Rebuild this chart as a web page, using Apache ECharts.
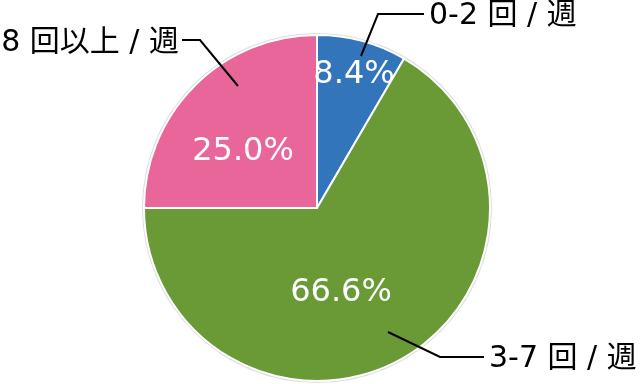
<!DOCTYPE html>
<html><head><meta charset="utf-8">
<script src="https://cdn.jsdelivr.net/npm/echarts@6/dist/echarts.min.js"></script>
<style>html,body{margin:0;padding:0;background:#fff}#c{width:642px;height:384px}</style>
</head><body><div id="c"></div>
<script>
const categories = ['0-2 回 / 週', '3-7 回 / 週', '8 回以上 / 週'];
const values = [8.4, 66.6, 25.0];
const colors = ['#3375bb', '#699a36', '#e9669a'];

const FONT = '"DejaVu Sans", "Noto Sans CJK JP", sans-serif';
const data = categories.map((n, i) => ({ name: n, value: values[i], itemStyle: { color: colors[i] } }));

// label placements (pixel layout of text, not data)
const insidePos = [[354, 75], [341, 293], [243, 152]];
const outside = [
  { x: 429, y: 16, align: 'left', pts: [[361, 56], [378, 14], [424, 14]] },
  { x: 489, y: 359, align: 'left', pts: [[388, 332], [440, 357], [484, 357]] },
  { x: 179, y: 43, align: 'right', pts: [[238, 86], [200, 40], [182, 40]] }
];

const chart = echarts.init(document.getElementById('c'), null, { renderer: 'canvas' });
chart.setOption({
  animation: false,
  graphic: outside.map(o => ({
    type: 'polyline', silent: true, z: 10,
    shape: { points: o.pts },
    style: { stroke: '#000000', lineWidth: 2, fill: null }
  })),
  series: [
    {
      type: 'pie', center: [317, 208], radius: [0, 175], silent: true,
      data: [{ value: 1, itemStyle: { color: '#dcdcdc' } }],
      label: { show: false }, labelLine: { show: false }
    },
    {
      type: 'pie', center: [317, 208], radius: [0, 173], startAngle: 90, clockwise: true,
      data: data,
      itemStyle: { borderColor: '#ffffff', borderWidth: 2 },
      label: {
        show: true, position: 'inside', color: '#ffffff', fontSize: 32, fontFamily: FONT,
        formatter: p => p.value.toFixed(1) + '%'
      },
      labelLayout: p => ({ x: insidePos[p.dataIndex][0], y: insidePos[p.dataIndex][1], align: 'center', verticalAlign: 'middle' })
    },
    {
      type: 'pie', center: [317, 208], radius: [0, 173], startAngle: 90, clockwise: true, silent: true,
      data: categories.map((n, i) => ({ name: n, value: values[i], itemStyle: { color: 'rgba(0,0,0,0)' } })),
      label: {
        show: true, position: 'outside', color: '#000000', fontSize: 30, fontFamily: FONT,
        overflow: 'none', width: 300, formatter: p => p.name
      },
      labelLine: { show: false },
      labelLayout: p => {
        const o = outside[p.dataIndex];
        return { x: o.x, y: o.y, align: o.align, verticalAlign: 'middle', hideOverlap: false };
      }
    }
  ]
});
</script></body></html>
